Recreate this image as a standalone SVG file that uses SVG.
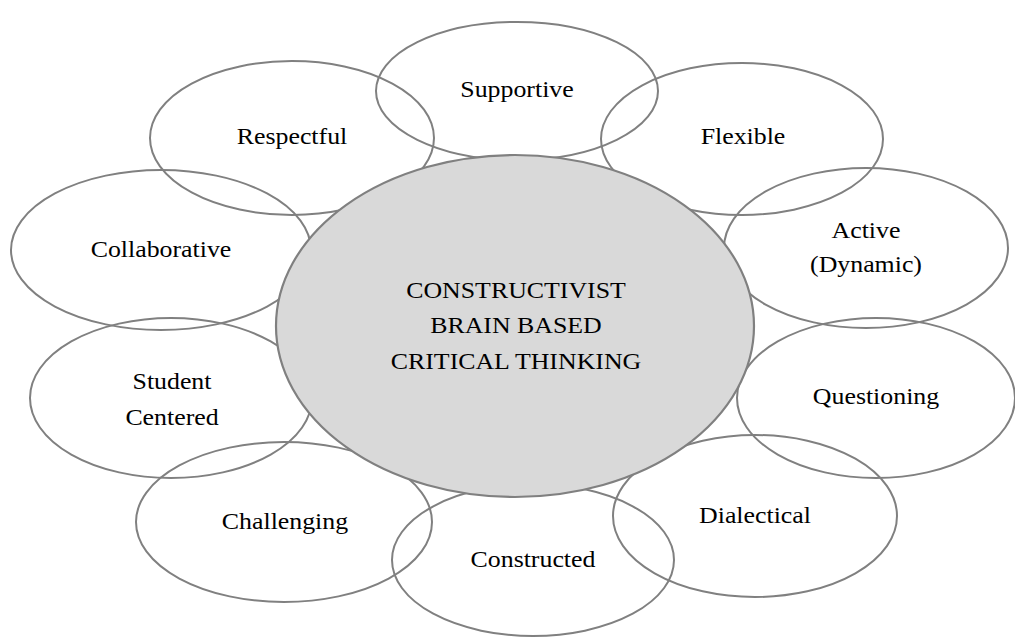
<svg xmlns="http://www.w3.org/2000/svg" width="1015" height="640" viewBox="0 0 1015 640">
<style>
.o{fill:none;stroke:#808080;stroke-width:2}
.c{fill:#d9d9d9;stroke:#808080;stroke-width:2.2}
text{font-family:"Liberation Serif","Times New Roman",serif;font-size:23.5px;fill:#000;text-anchor:middle}
</style>
<rect width="1015" height="640" fill="#fff"/>
<g id="supportive"><ellipse class="o" cx="517" cy="91" rx="141" ry="69"/><g transform="translate(517,97) scale(1.1,1)"><text x="0" y="0">Supportive</text></g></g>
<g id="respectful"><ellipse class="o" cx="292" cy="138" rx="142" ry="77"/><g transform="translate(292,144) scale(1.1,1)"><text x="0" y="0">Respectful</text></g></g>
<g id="flexible"><ellipse class="o" cx="742" cy="139" rx="141" ry="76"/><g transform="translate(743,144) scale(1.1,1)"><text x="0" y="0">Flexible</text></g></g>
<g id="collaborative"><ellipse class="o" cx="161" cy="250" rx="150" ry="80"/><g transform="translate(161,257) scale(1.1,1)"><text x="0" y="0">Collaborative</text></g></g>
<g id="active"><ellipse class="o" cx="866" cy="248" rx="142" ry="80"/><g transform="translate(866,0) scale(1.1,1)"><text x="0" y="238">Active</text><text x="0" y="272">(Dynamic)</text></g></g>
<g id="student-centered"><ellipse class="o" cx="171" cy="398" rx="141" ry="80"/><g transform="translate(172,0) scale(1.1,1)"><text x="0" y="389">Student</text><text x="0" y="425">Centered</text></g></g>
<g id="questioning"><ellipse class="o" cx="876" cy="398" rx="139" ry="80"/><g transform="translate(876,404) scale(1.1,1)"><text x="0" y="0">Questioning</text></g></g>
<g id="challenging"><ellipse class="o" cx="284" cy="522" rx="148" ry="80"/><g transform="translate(285,529) scale(1.1,1)"><text x="0" y="0">Challenging</text></g></g>
<g id="dialectical"><ellipse class="o" cx="755" cy="516" rx="142" ry="81"/><g transform="translate(755,523) scale(1.1,1)"><text x="0" y="0">Dialectical</text></g></g>
<g id="constructed"><ellipse class="o" cx="533" cy="560" rx="141" ry="76"/><g transform="translate(533,567) scale(1.1,1)"><text x="0" y="0">Constructed</text></g></g>
<g id="center"><ellipse class="c" cx="515" cy="326" rx="239" ry="171"/><g transform="translate(516,0) scale(1.1,1)"><text x="0" y="298">CONSTRUCTIVIST</text><text x="0" y="333">BRAIN BASED</text><text x="0" y="369">CRITICAL THINKING</text></g></g>
<g id="connectors"/>
</svg>
